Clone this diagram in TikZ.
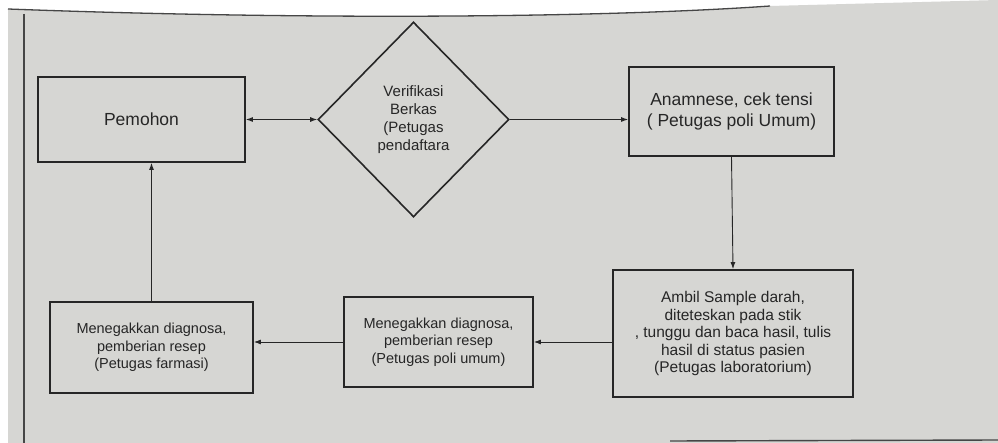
\documentclass[tikz,border=0pt]{standalone}
\usepackage{fontspec}
\setmainfont{Liberation Sans}
\usetikzlibrary{shapes.geometric,arrows.meta}

\definecolor{paper}{HTML}{D6D6D3}
\definecolor{ink}{HTML}{262626}

\tikzset{
  box/.style={draw=ink, line width=1.8pt, text=ink, align=center, inner sep=2pt},
  decision/.style={diamond, draw=ink, line width=1.6pt, text=ink, align=center, inner sep=0pt},
  flow/.style={draw=ink, line width=0.9pt}
}

\begin{document}
\begin{tikzpicture}[x=1pt, y=-1pt, >={Latex[length=7pt,width=5pt]}]
			\useasboundingbox (0,0) rectangle (998,443);
			\fill[white] (0,0) rectangle (998,443);
			% photographed page
			\fill[paper] (8,9) .. controls (300,20) and (600,18) .. (770,6) -- (998,0) -- (998,443) -- (8,443) -- cycle;
			\draw[gray!55!black, line width=1.3pt] (8,9) .. controls (300,20) and (600,18) .. (770,6);
			\draw[gray!55!black, line width=1.2pt] (24,14) -- (24,443);
			\draw[gray!55!black, line width=1.4pt] (670,441) -- (998,440);
			\node[box, minimum width=207pt, minimum height=85pt, font=\fontsize{17.5}{21}\selectfont] (pemohon) at (141.5,119.5) {Pemohon};
			\node[decision, minimum width=191pt, minimum height=195pt, font=\fontsize{15}{18}\selectfont] (verif) at (413.5,119.5) {Verifikasi\\Berkas\\(Petugas\\pendaftara};
			\node[box, minimum width=205pt, minimum height=89pt, font=\fontsize{17.5}{21}\selectfont] (anamnese) at (731.5,111.5) {Anamnese, cek tensi\\( Petugas poli Umum)};
			\node[box, minimum width=240pt, minimum height=127pt, font=\fontsize{15.5}{17.5}\selectfont] (ambil) at (733,333.5) {Ambil Sample darah,\\diteteskan pada stik\\, tunggu dan baca hasil, tulis\\hasil di status pasien\\(Petugas laboratorium)};
			\node[box, minimum width=189pt, minimum height=90pt, font=\fontsize{14.5}{17.5}\selectfont] (poli) at (438.5,342) {Menegakkan diagnosa,\\pemberian resep\\(Petugas poli umum)};
			\node[box, minimum width=203pt, minimum height=91pt, font=\fontsize{14.5}{17.5}\selectfont] (farmasi) at (151.5,347.5) {Menegakkan diagnosa,\\pemberian resep\\(Petugas farmasi)};
			\draw[flow, <->] (pemohon.east) -- (verif.west);
			\draw[flow, ->] (verif.east) -- (verif.east -| anamnese.west);
			\draw[flow, ->] (anamnese.south) -- (ambil.north);
			\draw[flow, ->] (poli.east -| ambil.west) -- (poli.east);
			\draw[flow, ->] (poli.west) -- (poli.west -| farmasi.east);
			\draw[flow, ->] (farmasi.north) -- (farmasi.north |- pemohon.south);
\end{tikzpicture}
\end{document}
